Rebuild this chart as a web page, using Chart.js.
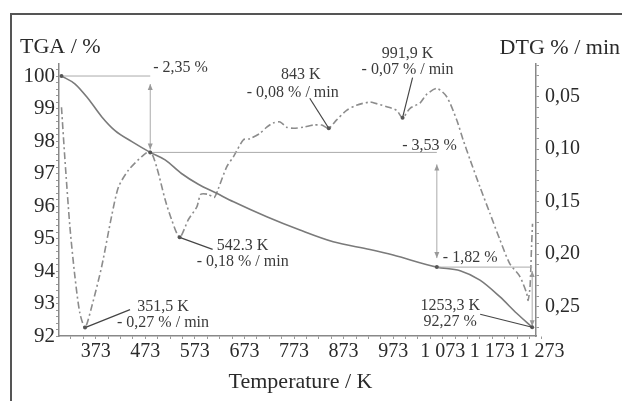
<!DOCTYPE html>
<html>
<head>
<meta charset="utf-8">
<script src="https://cdn.jsdelivr.net/npm/chart.js@4.4.1/dist/chart.umd.min.js"></script>
<style>
html,body{margin:0;padding:0;background:#fff;}
#wrap{position:relative;width:622px;height:401px;}
#frame{position:absolute;left:10px;top:13px;right:0;bottom:0;border-top:2px solid #555;border-left:2px solid #555;pointer-events:none;}
</style>
</head>
<body>
<div id="wrap"><canvas id="c" width="622" height="401"></canvas><div id="frame"></div></div>
<script>
/* ── DATA ── */
// TGA curve: temperature (K) / mass (%)
const tgaT = [304, 331, 358, 385, 412, 446, 483, 513, 546, 580, 617, 651, 718, 785, 852, 926, 973, 1061, 1108, 1148, 1188, 1222, 1253.3];
const tgaV = [100.0, 99.76, 99.3, 98.75, 98.32, 97.98, 97.65, 97.42, 97.0, 96.67, 96.39, 96.13, 95.67, 95.26, 94.90, 94.66, 94.49, 94.12, 94.01, 93.72, 93.21, 92.70, 92.27];

// DTG curve: temperature (K) / mass loss rate (% / min)
const dtgT = [304, 311, 321, 331, 341, 351.5, 365, 385, 405, 419, 439, 466, 483, 496, 513, 526, 542.3, 560, 577, 585, 600, 612, 620, 637, 651, 671, 684, 704, 718, 731, 745, 758, 772, 792, 812, 829, 843, 859, 879, 899, 926, 933, 960, 980, 991.9, 1007, 1027, 1040, 1061, 1081, 1101, 1114, 1128, 1148, 1168, 1188, 1208, 1228, 1242, 1245, 1249, 1252, 1254];
const dtgV = [0.060, 0.110, 0.174, 0.221, 0.256, 0.270, 0.250, 0.212, 0.164, 0.136, 0.120, 0.107, 0.102, 0.117, 0.148, 0.167, 0.184, 0.167, 0.155, 0.143, 0.143, 0.146, 0.138, 0.117, 0.107, 0.091, 0.090, 0.085, 0.079, 0.075, 0.074, 0.079, 0.080, 0.079, 0.077, 0.077, 0.080, 0.072, 0.063, 0.058, 0.055, 0.0557, 0.0595, 0.063, 0.070, 0.061, 0.056, 0.048, 0.042, 0.050, 0.072, 0.091, 0.110, 0.136, 0.161, 0.186, 0.209, 0.221, 0.237, 0.244, 0.231, 0.193, 0.171];

// tick labels
const xTicks   = [373, 473, 573, 673, 773, 873, 973, 1073, 1173, 1273];
const tgaTicks = [92, 93, 94, 95, 96, 97, 98, 99, 100];
const dtgTicks = [0.05, 0.10, 0.15, 0.20, 0.25];

// DTG extremes
const peakT   = [351.5, 542.3, 843, 991.9];
const peakV   = [0.27, 0.184, 0.08, 0.07];
const peakTxt = [['351,5 K', '- 0,27 % / min'], ['542.3 K', '- 0,18 % / min'], ['843 K', '- 0,08 % / min'], ['991,9 K', '- 0,07 % / min']];

// mass loss steps (TGA)
const stepT   = [304, 483, 1061, 1253.3];
const stepV   = [100, 97.65, 94.12, 92.27];
const stepTxt = ['- 2,35 %', '- 3,53 %', '- 1,82 %'];
const endTxt  = ['1253,3 K', '92,27 %'];

/* ── HELPERS ── */
const SERIF = '"Liberation Serif", "Times New Roman", serif';
const fmtK = v => v >= 1000 ? String(v).replace(/(\d)(\d{3})$/, '$1 $2') : String(v);
const pts = (xs, ys) => xs.map((x, i) => ({x, y: ys[i]}));

function seg(ctx, x1, y1, x2, y2) {
  ctx.beginPath(); ctx.moveTo(x1, y1); ctx.lineTo(x2, y2); ctx.stroke();
}
function vArrow(ctx, x, y1, y2) {
  seg(ctx, x, y1, x, y2);
  ctx.beginPath(); ctx.moveTo(x, y1); ctx.lineTo(x - 2.5, y1 + 6); ctx.lineTo(x + 2.5, y1 + 6); ctx.fill();
  ctx.beginPath(); ctx.moveTo(x, y2); ctx.lineTo(x - 2.5, y2 - 6); ctx.lineTo(x + 2.5, y2 - 6); ctx.fill();
}
function dot(ctx, x, y) {
  ctx.beginPath(); ctx.arc(x, y, 2, 0, Math.PI * 2); ctx.fill();
}

/* ── ANNOTATIONS ── */
// label placement relative to the anchor point (px)
const STEP_GAP = [[8, 3], [12, 9], [4, 1]];
const STEP_LBL = [{at: 1, dx: 3, dy: -8, align: 'left'}, {at: 2, dx: 20, dy: -7, align: 'right'}, {at: 2, dx: 6, dy: -9, align: 'left'}];
const PEAK_LBL = [
  {lx: 45,  ly: -18, tx: [78, 78],   ty: [-21, -5]},
  {lx: 33,  ly: 12,  tx: [63, 63],   ty: [8, 24]},
  {lx: -19, ly: -30, tx: [-28, -36], ty: [-53, -35]},
  {lx: 10,  ly: -40, tx: [5, 5],     ty: [-64, -48]}
];
const END_LBL = {lx: -52, ly: -13, tx: -82, ty: [-21, -5]};

const notes = {
  id: 'notes',
  afterDatasetsDraw(chart) {
    const {ctx, scales: {x, y, y2}} = chart;
    ctx.save();
    ctx.font = '16px ' + SERIF;
    ctx.textBaseline = 'middle';

    // step lines + arrows
    for (let i = 0; i < stepTxt.length; i++) {
      const xa = x.getPixelForValue(stepT[i]), xb = x.getPixelForValue(stepT[i + 1]);
      const ya = y.getPixelForValue(stepV[i]), yb = y.getPixelForValue(stepV[i + 1]);
      ctx.strokeStyle = '#aaa'; ctx.fillStyle = '#999'; ctx.lineWidth = 1;
      seg(ctx, xa, ya, xb, ya);
      vArrow(ctx, xb, ya + STEP_GAP[i][0], yb - STEP_GAP[i][1]);
      const L = STEP_LBL[i];
      ctx.fillStyle = '#3a3a3a'; ctx.textAlign = L.align;
      ctx.fillText(stepTxt[i], x.getPixelForValue(stepT[L.at]) + L.dx, ya + L.dy);
    }

    // DTG extremes
    peakT.forEach((t, i) => {
      const px = x.getPixelForValue(t), py = y2.getPixelForValue(peakV[i]);
      const L = PEAK_LBL[i];
      ctx.strokeStyle = '#444'; ctx.lineWidth = 1.2;
      seg(ctx, px, py, px + L.lx, py + L.ly);
      ctx.fillStyle = '#555'; dot(ctx, px, py);
      ctx.fillStyle = '#3a3a3a'; ctx.textAlign = 'center';
      peakTxt[i].forEach((s, k) => ctx.fillText(s, px + L.tx[k], py + L.ty[k]));
    });

    // TGA markers + end label
    ctx.fillStyle = '#555';
    stepT.forEach((t, i) => dot(ctx, x.getPixelForValue(t), y.getPixelForValue(stepV[i])));
    const ex = x.getPixelForValue(stepT[3]), ey = y.getPixelForValue(stepV[3]);
    ctx.strokeStyle = '#444'; ctx.lineWidth = 1.2;
    seg(ctx, ex, ey, ex + END_LBL.lx, ey + END_LBL.ly);
    ctx.fillStyle = '#3a3a3a'; ctx.textAlign = 'center';
    endTxt.forEach((s, k) => ctx.fillText(s, ex + END_LBL.tx, ey + END_LBL.ty[k]));

    // axis titles
    ctx.font = '22px ' + SERIF;
    ctx.fillStyle = '#2a2a2a';
    ctx.textAlign = 'left';   ctx.fillText('TGA / %', 20, 47);
    ctx.textAlign = 'right';  ctx.fillText('DTG % / min', 620, 48);
    ctx.textAlign = 'center'; ctx.fillText('Temperature / K', (x.left + x.right) / 2 + 3, 382);
    ctx.restore();
  }
};

/* ── CHART ── */
const axisStyle = {
  grid: {drawOnChartArea: false, tickLength: 3, color: '#999'},
  border: {color: '#888', width: 1.5}
};

new Chart(document.getElementById('c').getContext('2d'), {
  type: 'line',
  data: {
    datasets: [
      {label: 'TGA', data: pts(tgaT, tgaV), yAxisID: 'y',
       borderColor: '#7a7a7a', borderWidth: 1.6, pointRadius: 0, fill: false,
       cubicInterpolationMode: 'monotone'},
      {label: 'DTG', data: pts(dtgT, dtgV), yAxisID: 'y2',
       borderColor: '#8c8c8c', borderWidth: 1.6, borderDash: [7, 3, 2, 3], pointRadius: 0, fill: false,
       tension: 0.25}
    ]
  },
  options: {
    responsive: false, animation: false,
    layout: {padding: {top: 64, left: 0, right: 0, bottom: 0}},
    plugins: {legend: {display: false}, tooltip: {enabled: false}},
    scales: {
      x: {
        type: 'linear', position: 'bottom', min: 299, max: 1261, ...axisStyle,
        afterBuildTicks: s => {
          const t = [];
          for (let v = 323; v < 1261; v += 25) t.push({value: v});
          t.push({value: 1273});
          s.ticks = t;
        },
        afterFit: s => { s.height = 65; },
        ticks: {autoSkip: false, maxRotation: 0, padding: 1, color: '#2a2a2a', font: {family: SERIF, size: 20},
                callback: v => xTicks.includes(v) ? fmtK(v) : ''}
      },
      y: {
        position: 'left', min: 92, max: 100.37, ...axisStyle,
        afterBuildTicks: s => {
          const t = [];
          for (let n = 920; n <= 1003; n += 2) t.push({value: n / 10});
          s.ticks = t;
        },
        afterFit: s => { s.width = 59; },
        ticks: {autoSkip: false, padding: 1, color: '#2a2a2a', font: {family: SERIF, size: 21},
                callback: v => tgaTicks.includes(v) ? String(v) : ''}
      },
      y2: {
        position: 'right', reverse: true, min: 0.0188, max: 0.278, ...axisStyle,
        afterBuildTicks: s => {
          const t = [];
          for (let n = 2; n <= 27; n++) t.push({value: n / 100});
          s.ticks = t;
        },
        afterFit: s => { s.width = 86; },
        ticks: {autoSkip: false, padding: 6, color: '#2a2a2a', font: {family: SERIF, size: 20},
                callback: v => dtgTicks.some(d => Math.abs(d - v) < 1e-6) ? v.toFixed(2).replace('.', ',') : ''}
      }
    }
  },
  plugins: [notes]
});
</script>
</body>
</html>
